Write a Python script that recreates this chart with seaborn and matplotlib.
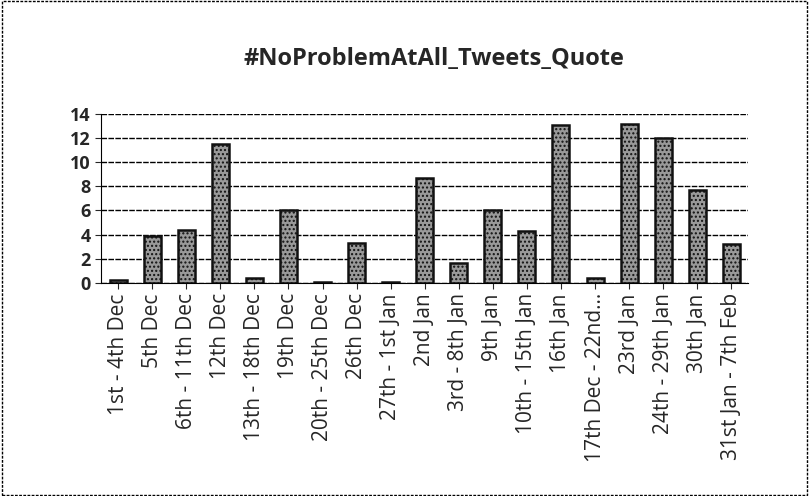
import numpy as np
import pandas as pd
import matplotlib.pyplot as plt
import seaborn as sns

weeks = ['1st - 4th Dec', '5th Dec', '6th - 11th Dec', '12th Dec', '13th - 18th Dec',
         '19th Dec', '20th - 25th Dec', '26th Dec', '27th - 1st Jan', '2nd Jan',
         '3rd - 8th Jan', '9th Jan', '10th - 15th Jan', '16th Jan', '17th Dec - 22nd...',
         '23rd Jan', '24th - 29th Jan', '30th Jan', '31st Jan - 7th Feb']
tweets = [0.2, 3.9, 4.4, 11.5, 0.4, 6.0, 0.1, 3.3, 0.1, 8.7,
          1.6, 6.0, 4.3, 13.1, 0.4, 13.2, 12.0, 7.7, 3.2]

sns.set_style('white')
plt.rcParams['font.family'] = ['Open Sans', 'DejaVu Sans']

df = pd.DataFrame({'week': weeks, 'tweets': tweets})

fig = plt.figure(figsize=(8.09, 4.96), dpi=100)
ax = fig.add_axes([0.125, 0.43, 0.80, 0.34])
sns.barplot(data=df, x='week', y='tweets', color='#999999', edgecolor='#111111',
            linewidth=1.8, width=0.5, ax=ax)
for p in ax.patches:
    p.set_hatch('....')

ax.set_ylim(0, 14)
ax.set_yticks(range(0, 15, 2))
ax.yaxis.grid(True, color='black', linestyle=(0, (4, 1)), linewidth=1)
ax.set_axisbelow(True)
ax.set_xlabel('')
ax.set_ylabel('')
ax.tick_params(axis='x', rotation=90, labelsize=15, length=4, bottom=True)
ax.tick_params(axis='y', labelsize=13, length=4, left=True)
for lbl in ax.get_yticklabels():
    lbl.set_fontweight('bold')
for s in ['top', 'right']:
    ax.spines[s].set_visible(False)
ax.spines['left'].set_color('black')
ax.spines['bottom'].set_color('black')

fig.suptitle('#NoProblemAtAll_Tweets_Quote', fontsize=17, fontweight='bold',
             x=0.537, y=0.905)

border = plt.Rectangle((0.003, 0.003), 0.994, 0.994, transform=fig.transFigure,
                       fill=False, edgecolor='black', linewidth=1, linestyle=(0, (2, 1)))
fig.patches.append(border)

plt.savefig('out.png', dpi=100)
